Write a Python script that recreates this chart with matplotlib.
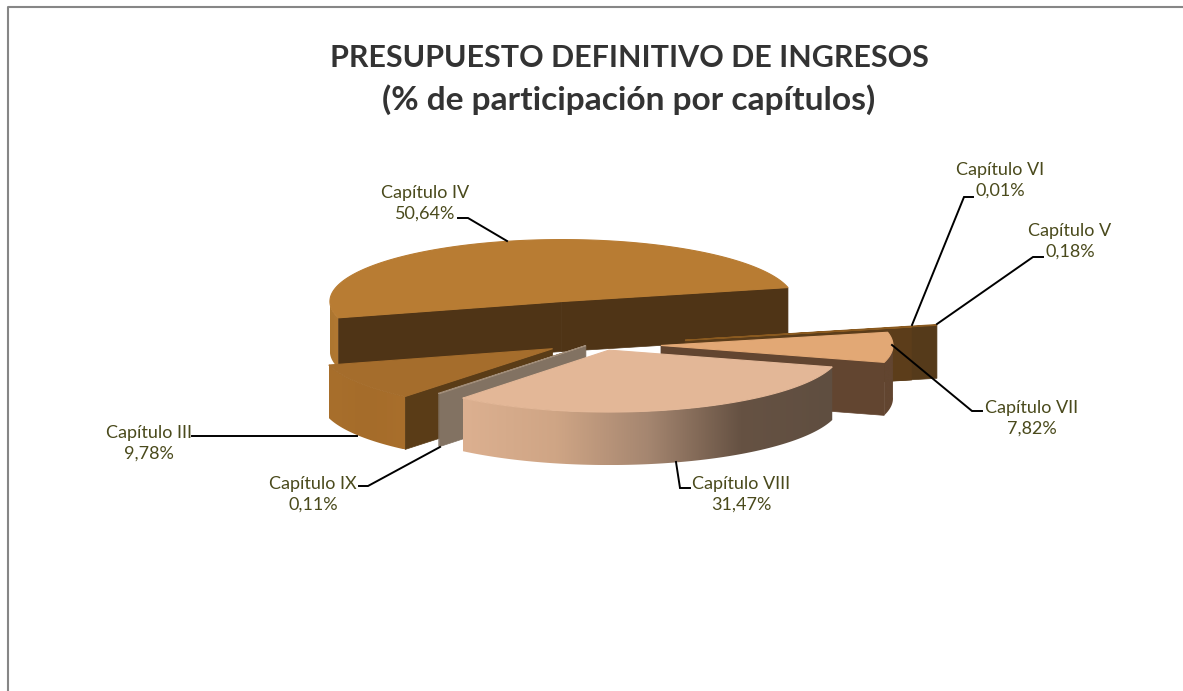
import numpy as np
import matplotlib
matplotlib.use('Agg')
import matplotlib.pyplot as plt
from matplotlib.colors import LinearSegmentedColormap
from matplotlib.patches import Polygon

# Datos del grafico (% de participacion, en orden de las agujas del reloj)
capitulos = ['Capítulo III', 'Capítulo IV', 'Capítulo V', 'Capítulo VI',
             'Capítulo VII', 'Capítulo VIII', 'Capítulo IX']
valores = [9.78, 50.64, 0.18, 0.01, 7.82, 31.47, 0.11]
titulo = ['PRESUPUESTO DEFINITIVO DE INGRESOS', '(% de participación por capítulos)']

# Separacion de cada porcion respecto al centro (pixeles)
explosion = [60, 168, 110, 84, 58, 20, 27]
ajuste_y = [-5, 0, 0, 0, 0, 0, -5]
color_top = ['#a56d2c', '#b87c33', '#8a5a20', '#8a5a20', '#e2a875', '#e3b797', '#a08c78']
color_cara = ['#5a3c17', '#4f3416', '#553a1a', '#5c3d1a', '#624530', '#624530', '#827262']
# Degradado de la pared exterior
color_pared = [['#a86f2c', '#a56c2a', '#a96f2c'], ['#ad7630', '#b27832'], ['#553a1a', '#553a1a'],
               ['#5c3d1a', '#5c3d1a'], ['#624530', '#624530'],
               ['#dcb090', '#cfa585', '#a58670', '#665243', '#5f4e40'], ['#827262', '#827262']]
# Posicion de etiquetas y lineas guia
pos_etiqueta = [(149, 443), (425, 203), (1070, 241), (1000, 180), (1032, 418), (741, 494), (313, 494)]
lineas_guia = [[(357, 436), (192, 436)],
               [(507, 241), (468, 218), (458, 218)],
               [(937, 324), (1033, 257), (1043, 257)],
               [(912, 325), (964, 197), (973, 197)],
               [(892, 345), (972, 411), (982, 411)],
               [(676, 462), (680, 488), (690, 488)],
               [(440, 447), (368, 486), (359, 486)]]

ANG_INICIO = 230.5
CENTRO = (603, 345)
RADIO = 232
APLASTADO = 0.267
ALTO = 53


def punto(ox, oy, ang, r=RADIO):
    a = np.radians(ang)
    return ox + r * np.cos(a), oy - APLASTADO * r * np.sin(a)


def dibujar_porcion(ax, a1, a2, expl, dy, top, cara, pared, alto, z):
    # a1 > a2: la porcion avanza en sentido horario
    med = np.radians((a1 + a2) / 2)
    ox = CENTRO[0] + expl * np.cos(med)
    oy = CENTRO[1] - APLASTADO * expl * np.sin(med) + dy

    # caras de corte visibles
    for ang, visible in ((a1, np.cos(np.radians(a1)) < 0), (a2, np.cos(np.radians(a2)) > 0)):
        if visible:
            x, y = punto(ox, oy, ang)
            ax.fill([ox, x, x, ox], [oy, y, y + alto, oy + alto], color=cara, lw=0.5, zorder=z)

    # pared exterior con degradado, solo la parte frontal
    angs = np.linspace(a2, a1, max(int(a1 - a2) * 2, 2))
    angs = angs[np.sin(np.radians(angs)) < 0.02]
    if len(angs) > 1:
        xs, ys = punto(ox, oy, angs)
        pts = np.r_[np.c_[xs, ys], np.c_[xs, ys + alto][::-1]]
        clip = Polygon(pts, closed=True, transform=ax.transData, fc='none', ec='none')
        ax.add_patch(clip)
        cmap = LinearSegmentedColormap.from_list('pared', pared)
        img = ax.imshow(np.linspace(0, 1, 256)[None, :], cmap=cmap, aspect='auto',
                        interpolation='bilinear', zorder=z + 0.1,
                        extent=[xs.min(), xs.max(), pts[:, 1].max(), pts[:, 1].min()])
        img.set_clip_path(clip)

    # cara superior
    angs = np.linspace(a1, a2, max(int(a1 - a2) * 2, 2))
    xs, ys = punto(ox, oy, angs)
    ax.fill(np.r_[ox, xs], np.r_[oy, ys], color=top, lw=0.8, zorder=z + 0.2)


plt.rcParams['font.family'] = ['Lato', 'DejaVu Sans']
fig = plt.figure(figsize=(11.83, 6.91), dpi=100)
ax = fig.add_axes([0, 0, 1, 1])
ax.axis('off')

# Marco del grafico
ax.plot([8, 8, 1183], [691, 7, 7], color='#868686', lw=1.5, zorder=1)

# Angulos de cada porcion a partir de los valores
fin = ANG_INICIO - np.cumsum(valores) / np.sum(valores) * 360
ini = np.r_[ANG_INICIO, fin[:-1]]

# Orden de pintado: del fondo hacia delante
for z, i in enumerate([1, 2, 3, 4, 0, 6, 5]):
    alto = 50 if i == 1 else ALTO
    dibujar_porcion(ax, ini[i], fin[i], explosion[i], ajuste_y[i], color_top[i],
                    color_cara[i], color_pared[i], alto, 2 + z)

ax.set_xlim(0, 1183)
ax.set_ylim(691, 0)

for i, nombre in enumerate(capitulos):
    x, y = zip(*lineas_guia[i])
    ax.plot(x, y, color='black', lw=1.4, zorder=20, solid_joinstyle='miter')
    txt = nombre + '\n' + f'{valores[i]:.2f}'.replace('.', ',') + '%'
    ax.text(pos_etiqueta[i][0], pos_etiqueta[i][1], txt, ha='center', va='center',
            fontsize=13, color='#4a4a1c', linespacing=1.33, zorder=21)

ax.text(629, 58, titulo[0], ha='center', va='center', fontsize=21.9, fontweight='bold',
        color='#333333', zorder=21)
ax.text(629, 100, titulo[1], ha='center', va='center', fontsize=24.1, fontweight='bold',
        color='#333333', zorder=21)

fig.savefig('out.png', dpi=100, facecolor='white')
